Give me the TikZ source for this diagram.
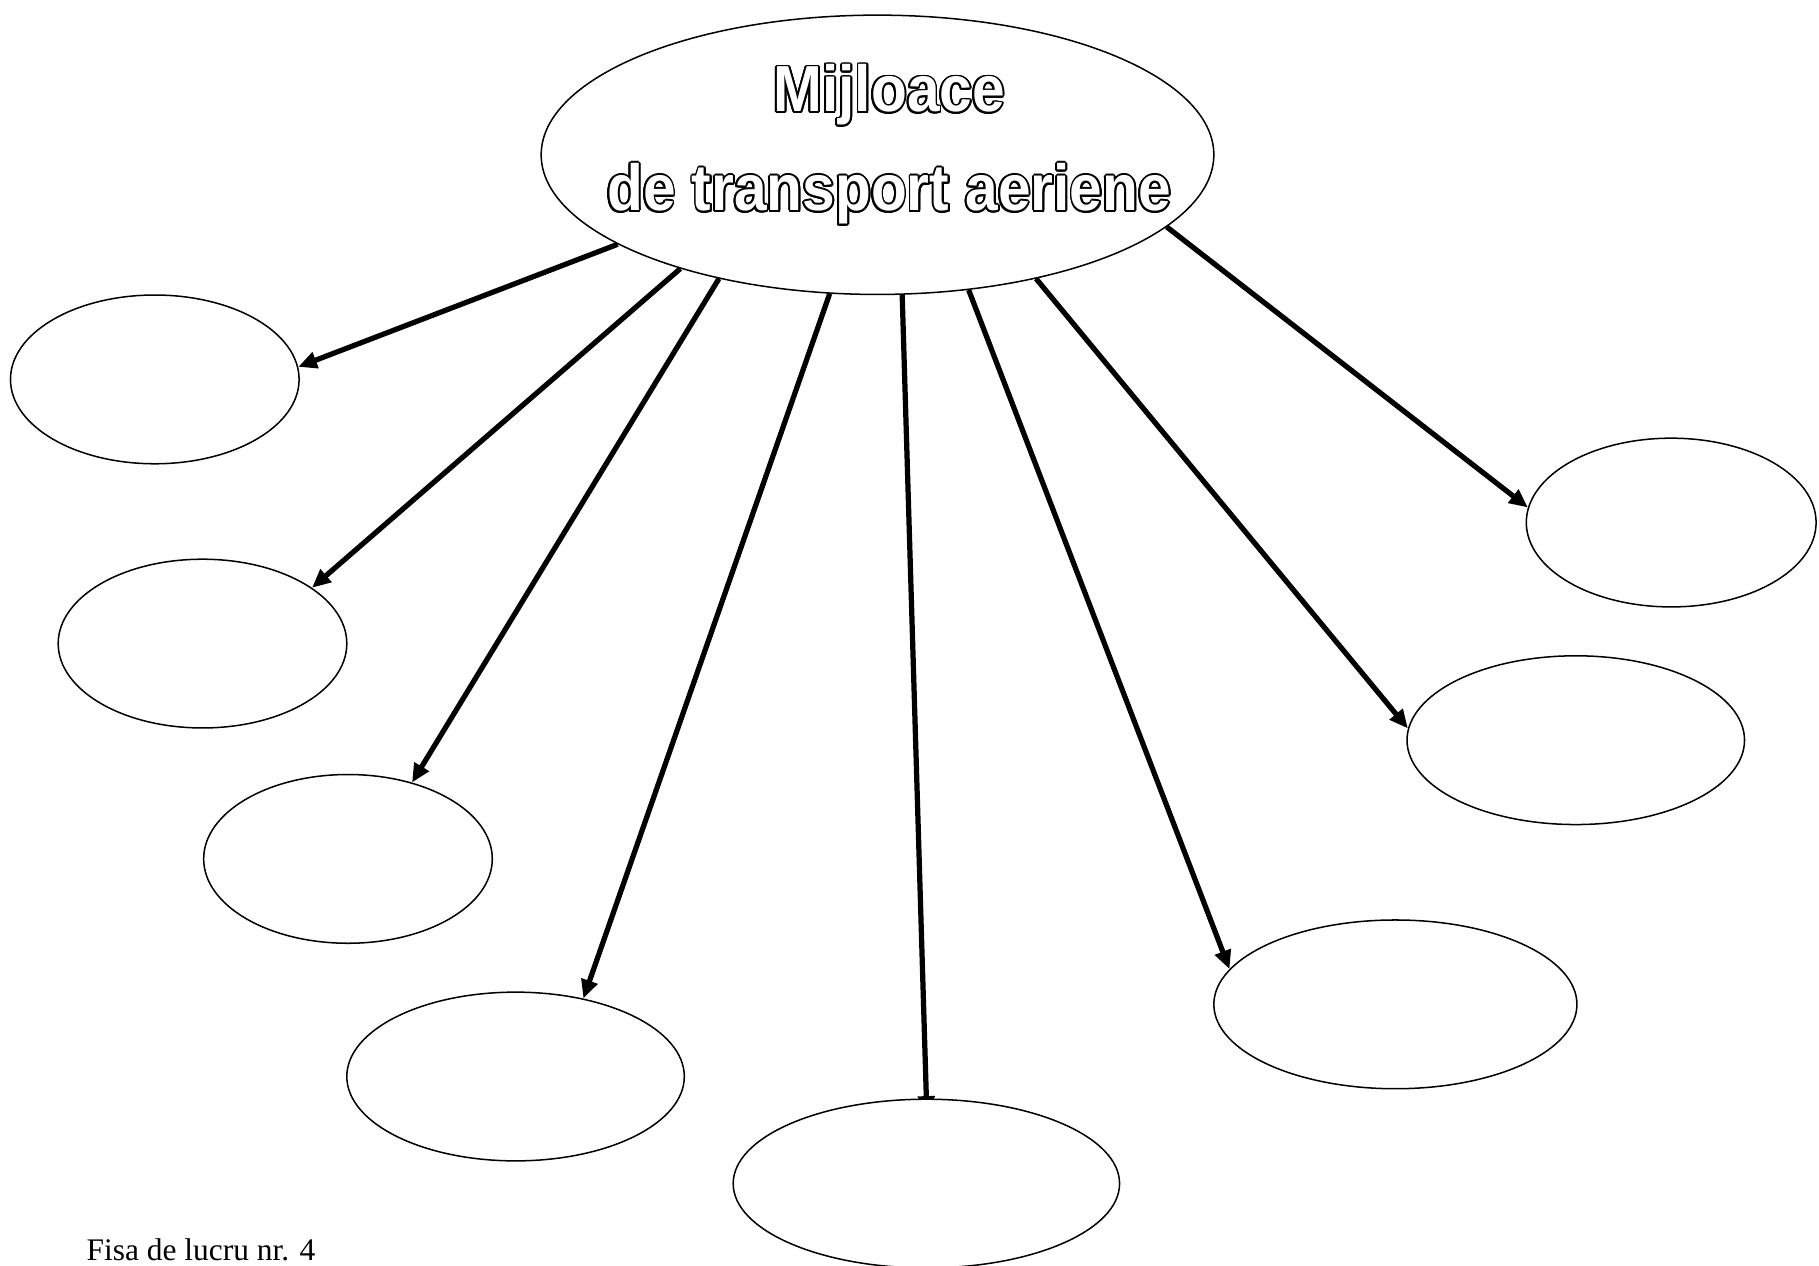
\documentclass[tikz,border=0pt]{standalone}
\usepackage{fontspec}
\setmainfont{Liberation Serif}
\newfontfamily\titlefont[FakeStretch=0.9]{Liberation Sans}
\usepackage[copies]{contour}
\usetikzlibrary{shapes.geometric,arrows.meta,backgrounds}

\contourlength{1.6pt}

\begin{document}
\begin{tikzpicture}[x=1pt,y=-1pt,
hub/.style={ellipse, draw, fill=white, line width=1.3pt, inner sep=0pt,
    minimum width=578pt, minimum height=240pt},
blank/.style={ellipse, draw, fill=white, line width=1.3pt, inner sep=0pt, minimum height=145pt},
link/.style={line width=4.5pt, -{Triangle[length=16pt,width=14pt]}},
title/.style={font=\titlefont\bfseries\fontsize{56}{85}\selectfont, align=center, text=white}]

\useasboundingbox (0,0) rectangle (1563,1087);

% Main concept
\node [hub] (air) at (754,133) {};
\node [title, xshift=10pt, yshift=8pt] (airtext) at (air)
    {\contour{black}{Mijloace}\\ \contour{black}{de transport aeriene}};

% Empty answer bubbles, left side then right side
\node [blank, minimum width=248pt] (left1) at (133,326) {};
\node [blank, minimum width=248pt] (left2) at (174,553) {};
\node [blank, minimum width=248pt] (left3) at (299,738) {};
\node [blank, minimum width=290pt] (left4) at (443,925) {};
\node [blank, minimum width=332pt] (bottom) at (796,1017) {};
\node [blank, minimum width=312pt] (right4) at (1199,863) {};
\node [blank, minimum width=290pt] (right3) at (1354,636) {};
\node [blank, minimum width=249pt] (right1) at (1436,449) {};

% Arrows go behind the bubbles
\begin{pgfonlayer}{background}
\foreach \from/\to/\at/\ext in {199/left1/5/0, 210/left2/27/0, 218/left3/50/0, 251/left4/49/0,
    280/bottom/90/-14, 304/right4/168/0, 322/right3/176/0, 346/right1/174/0}
    \draw [link, shorten >=\ext pt] (air.\from) -- (\to.\at);
\end{pgfonlayer}

\node [anchor=base west, font=\fontsize{27}{30}\selectfont] (sheet) at (71,1083) {Fisa de lucru nr. 4};
\end{tikzpicture}
\end{document}
